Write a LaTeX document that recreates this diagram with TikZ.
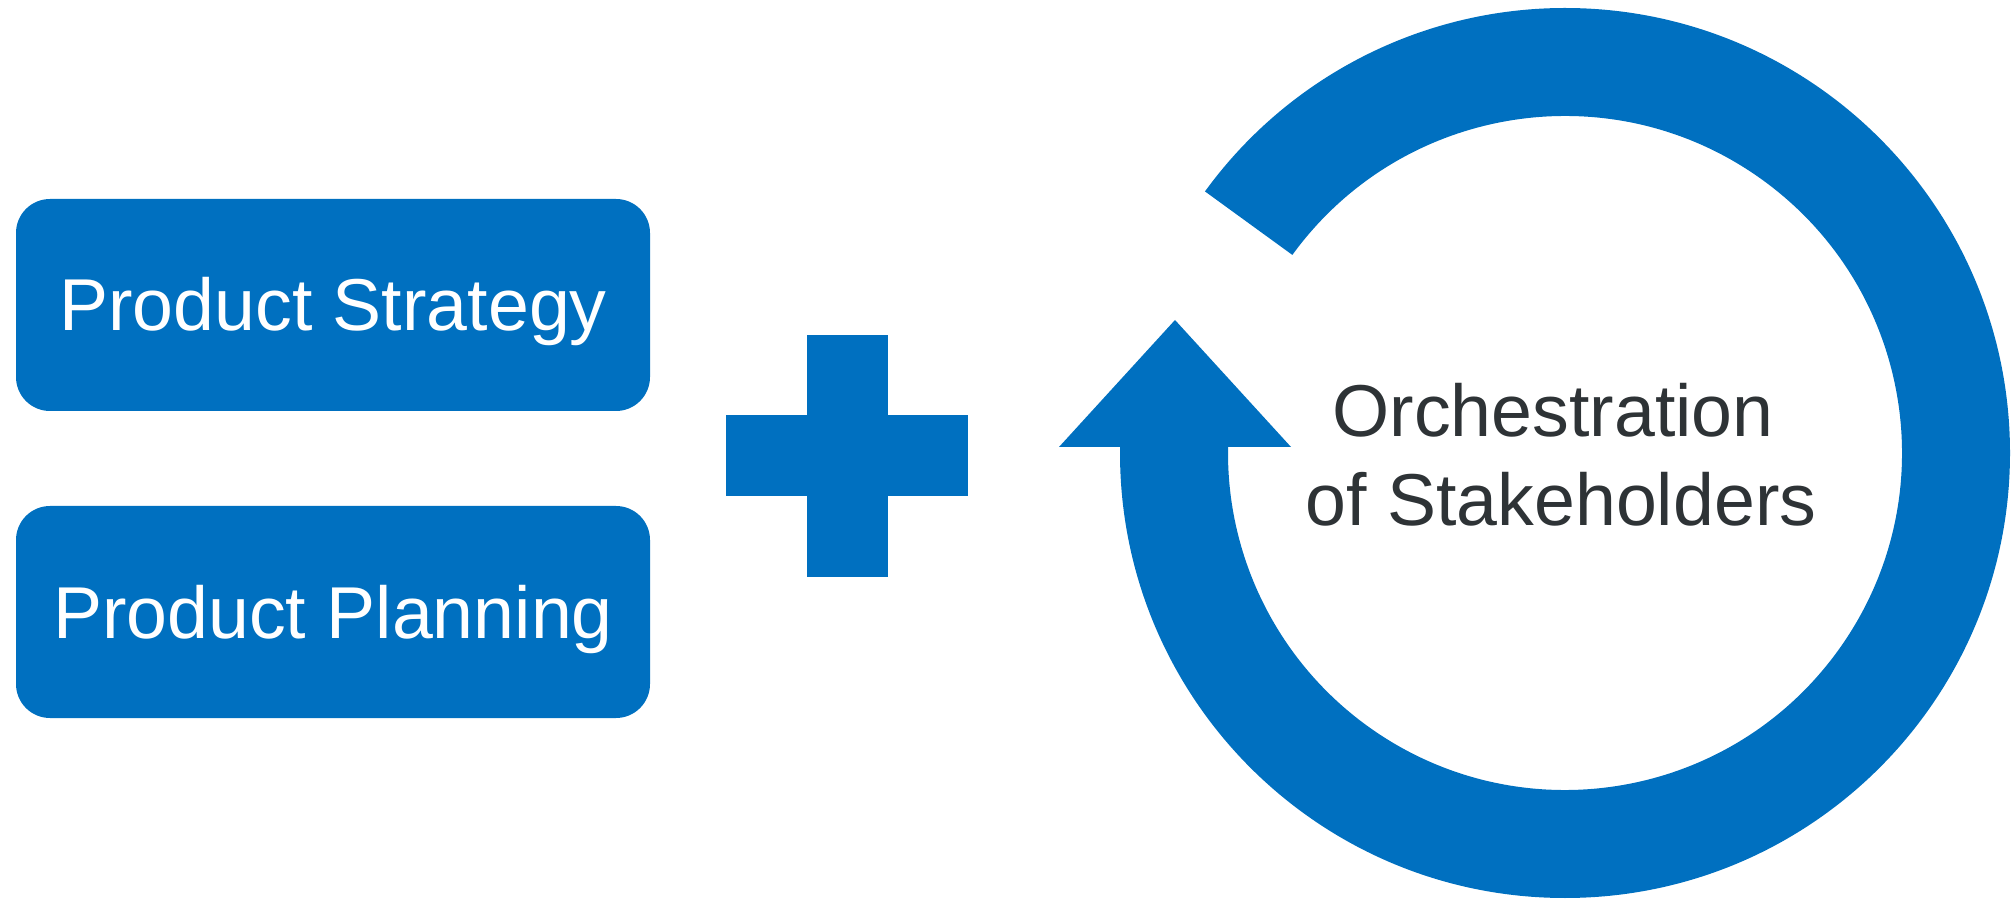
\documentclass[tikz,border=0pt]{standalone}
\usepackage{fontspec}
\setmainfont{Liberation Sans}
\definecolor{brandblue}{HTML}{0070C0}
\definecolor{textgray}{HTML}{2E3336}
\begin{document}
\begin{tikzpicture}[x=1pt,y=1pt,
  pbox/.style={fill=brandblue, rounded corners=34pt, minimum width=634pt, minimum height=212pt,
    inner sep=0pt, text=white, font=\fontsize{73.5}{88}\selectfont, text height=52pt, text depth=0pt},
  ringtext/.style={text=textgray, font=\fontsize{73.5}{88}\selectfont, anchor=base, inner sep=0pt},
  shapefill/.style={fill=brandblue}]
\useasboundingbox (0,0) rectangle (2014,898);
% left boxes
\node[pbox] (strategy) at (333,593) {Product Strategy};
\node[pbox] (planning) at (333,286) {Product Planning};
% plus sign
\fill[shapefill] (807,321) rectangle (888,563);
\fill[shapefill] (726,402) rectangle (968,483);
% circular arrow
\coordinate (C) at (1565,445);
\fill[shapefill] (1120,451) -- (1120,445) arc[start angle=180,end angle=504,radius=445]
  -- ([shift={(144:337)}]C) arc[start angle=504,end angle=180,radius=337]
  -- (1228,451) -- (1291,451) -- (1175,578) -- (1059,451) -- cycle;
% text in ring
\node[ringtext] (orch1) at (1553,461) {Orchestration};
\node[ringtext] (orch2) at (1561,372) {of Stakeholders};
\end{tikzpicture}
\end{document}
